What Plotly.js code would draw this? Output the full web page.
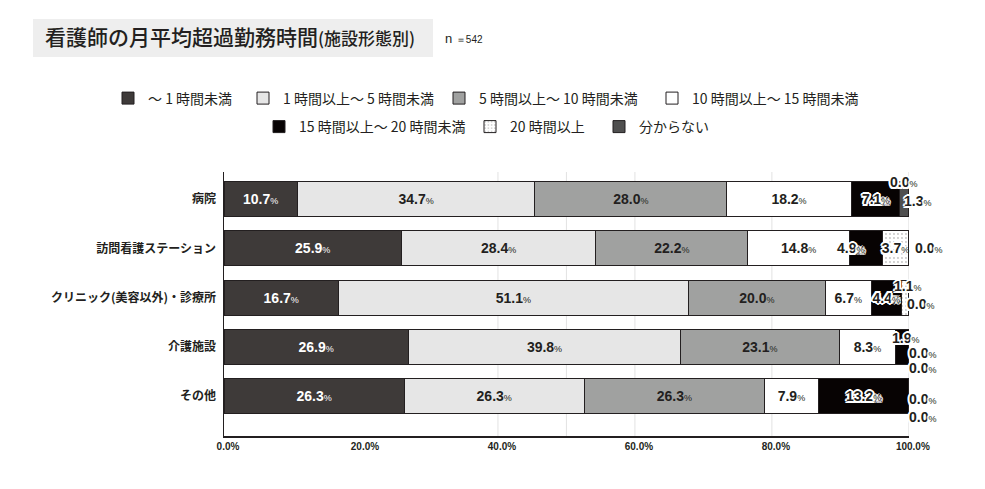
<!DOCTYPE html>
<html>
<head>
<meta charset="utf-8">
<script src="https://cdn.plot.ly/plotly-3.0.1.min.js"></script>
<style>
html,body{margin:0;padding:0;background:#fff;}
#chart{width:985px;height:489px;}
</style>
</head>
<body>
<div id="chart"></div>
<script>
// ---- data ----
const categories = ['病院', '訪問看護ステーション', 'クリニック(美容以外)・診療所', '介護施設', 'その他'];
const seriesNames = ['～ 1 時間未満', '1 時間以上～ 5 時間未満', '5 時間以上～ 10 時間未満', '10 時間以上～ 15 時間未満',
                     '15 時間以上～ 20 時間未満', '20 時間以上', '分からない'];
const under1   = [10.7, 25.9, 16.7, 26.9, 26.3];
const h1to5    = [34.7, 28.4, 51.1, 39.8, 26.3];
const h5to10   = [28.0, 22.2, 20.0, 23.1, 26.3];
const h10to15  = [18.2, 14.8, 6.7, 8.3, 7.9];
const h15to20  = [7.1, 4.9, 4.4, 1.9, 13.2];
const over20   = [0.0, 3.7, 1.1, 0.0, 0.0];
const unknown  = [1.3, 0.0, 0.0, 0.0, 0.0];
const xTickVals = [0, 20, 40, 60, 80, 100];
const xTickText = ['0.0%', '20.0%', '40.0%', '60.0%', '80.0%', '100.0%'];
const gridVals = [40, 50, 60, 80, 100];
const sampleSize = 542;

// ---- styles / layout ----
const W = 985, H = 489;
const M = {l: 224, r: 76, t: 172, b: 53};
const plotW = W - M.l - M.r, plotH = H - M.t - M.b;
const cjk = "'Noto Sans CJK JP', 'Noto Sans', sans-serif";
const num = "'Liberation Sans', Arial, sans-serif";
const ink = '#231f20';
const halo = '-1.5px -1.5px 0 #fff, 1.5px -1.5px 0 #fff, -1.5px 1.5px 0 #fff, 1.5px 1.5px 0 #fff, 0 -2px 0 #fff, 0 2px 0 #fff, -2px 0 0 #fff, 2px 0 0 #fff';

const allSeries = [under1, h1to5, h5to10, h10to15, h15to20, over20, unknown];
const colors = ['#3e3a39', '#e6e6e6', '#a0a1a0', '#ffffff', '#070303', '#ffffff', '#4f4f4f'];
const textColors = ['#ffffff', ink, ink, ink, ink, ink, ink];
const useHalo = [false, false, false, false, true, true, true];
// legend swatch positions (container px: left edge of swatch, vertical centre)
const legendPos = [[122, 98.5], [257, 98.5], [453, 98.5], [666, 98.5], [273, 127], [484, 127], [613, 127]];

// labels drawn outside their segment: [dx, dy] px from the segment's end, keyed "category-series"
const outsideLabels = {
  '0-5': [-12, 17], '0-6': [-7, -2],
  '1-4': [-48, 0], '1-6': [5, 0],
  '2-5': [-17, 12], '2-6': [-4, -6],
  '3-4': [-19, 9], '3-5': [-2, -6], '3-6': [-2, -21],
  '4-5': [-2, -3], '4-6': [-2, -21]
};

function label(v) {
  return '<b>' + v.toFixed(1) + "</b><span style='font-size:9px;font-weight:normal'>%</span>";
}

const legendKey = i => i === 0 ? 'legend' : 'legend' + (i + 1);

const traces = allSeries.map((vals, si) => {
  const t = {
    type: 'bar',
    orientation: 'h',
    name: seriesNames[si],
    legend: legendKey(si),
    showlegend: true,
    y: categories,
    x: vals,
    text: vals.map((v, ci) => outsideLabels[ci + '-' + si] ? '' : label(v)),
    textposition: 'inside',
    insidetextanchor: 'middle',
    textangle: 0,
    constraintext: 'none',
    cliponaxis: false,
    textfont: {family: num, size: 14, color: textColors[si], shadow: useHalo[si] ? halo : 'none'},
    insidetextfont: {family: num, size: 14, color: textColors[si], shadow: useHalo[si] ? halo : 'none'},
    marker: {color: colors[si], line: {color: ink, width: 1}},
    hoverinfo: 'skip'
  };
  if (si === 5) {
    t.marker.pattern = {shape: '.', fgcolor: '#c4c4c4', bgcolor: '#ffffff', size: 4, solidity: 0.18};
  }
  return t;
});

const annotations = [];
categories.forEach((c, ci) => {
  let cum = 0;
  allSeries.forEach((vals, si) => {
    cum += vals[ci];
    const off = outsideLabels[ci + '-' + si];
    if (off) {
      annotations.push({
        x: Math.min(cum, 100), y: c, xref: 'x', yref: 'y',
        text: label(vals[ci]), showarrow: false,
        xanchor: 'left', yanchor: 'middle',
        xshift: off[0], yshift: off[1],
        font: {family: num, size: 14, color: ink, shadow: halo}
      });
    }
  });
});

// helpers: container px -> paper coords
const px = x => (x - M.l) / plotW;
const py = y => (H - M.b - y) / plotH;

annotations.push({
  xref: 'paper', yref: 'paper', x: px(443), y: py(38),
  xanchor: 'left', yanchor: 'middle', showarrow: false,
  text: "n <span style='font-size:10px'>＝" + sampleSize + "</span>",
  font: {family: num, size: 13, color: ink}
});

const shapes = gridVals.map(g => ({
  type: 'line', xref: 'x', yref: 'paper', x0: g, x1: g, y0: 0, y1: 1,
  line: {color: '#e2e2e2', width: 1}, layer: 'below'
}));
shapes.push({
  type: 'rect', xref: 'paper', yref: 'paper',
  x0: px(33), x1: px(433), y0: py(57), y1: py(19),
  fillcolor: '#eeeeee', line: {width: 0}, layer: 'below'
});

const layout = {
  width: W, height: H,
  margin: M,
  showlegend: true,
  paper_bgcolor: '#ffffff', plot_bgcolor: 'rgba(0,0,0,0)',
  barmode: 'stack',
  bargap: 0.29,
  title: {
    text: "看護師の月平均超過勤務時間<span style='font-size:17px'>(施設形態別)</span>",
    xref: 'container', yref: 'container',
    x: 45 / W, xanchor: 'left', y: 1 - 38 / H, yanchor: 'middle',
    font: {family: cjk, size: 21, color: ink, weight: 500}
  },
  xaxis: {
    range: [0, 100.02], tickvals: xTickVals, ticktext: xTickText,
    showgrid: false, zeroline: false,
    showline: true, linecolor: ink, linewidth: 1.5,
    ticks: '', ticklabelshift: 4,
    tickfont: {family: num, size: 10, color: ink, weight: 'bold'},
    fixedrange: true
  },
  yaxis: {
    type: 'category', categoryarray: categories, categoryorder: 'array',
    range: [4.81, -0.55],
    showgrid: false, zeroline: false,
    showline: true, linecolor: ink, linewidth: 1.5,
    ticks: '', ticklabelstandoff: 4,
    tickfont: {family: cjk, size: 12, color: ink, weight: 'bold'},
    fixedrange: true
  },
  annotations: annotations,
  shapes: shapes,
  hovermode: false
};

legendPos.forEach((p, i) => {
  layout[legendKey(i)] = {
    visible: true,
    orientation: 'h', xref: 'container', yref: 'container',
    x: (p[0] - 14) / W, xanchor: 'left', y: 1 - p[1] / H, yanchor: 'middle',
    font: {family: cjk, size: 14, color: ink},
    itemclick: false, itemdoubleclick: false,
    bgcolor: 'rgba(0,0,0,0)', borderwidth: 0
  };
});

Plotly.newPlot('chart', traces, layout, {displayModeBar: false, staticPlot: true});
</script>
</body>
</html>
